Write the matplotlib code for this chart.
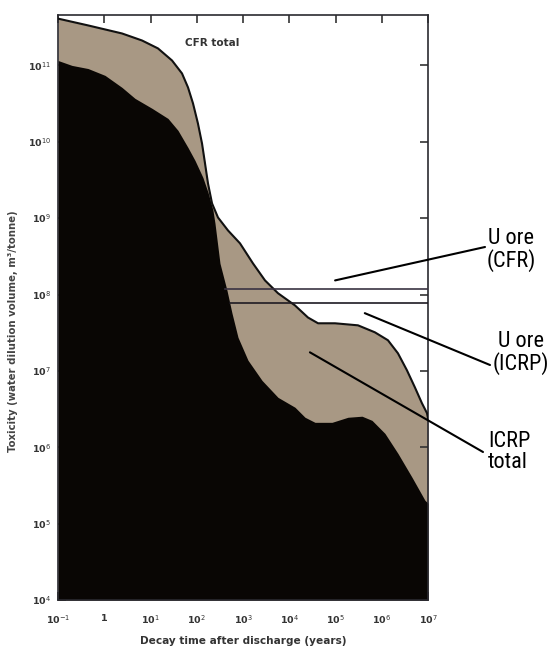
import numpy as np
import matplotlib
matplotlib.use('Agg')
import matplotlib.pyplot as plt

# Datos (anos, toxicidad m3/tonelada)
cfr_years = [0.1, 0.446, 2.42, 6.55, 14.5, 29.2, 48, 64.7, 83, 106, 130, 151,
             175, 214, 288, 474, 861, 1640, 2990, 5710, 1.33e4, 2.54e4, 4.2e4,
             9.75e4, 3.06e5, 7.1e5, 1.36e6, 2.24e6, 3.5e6, 5.2e6, 7.4e6,
             9.5e6, 1e7]
cfr_total = [4.1e11, 3.34e11, 2.62e11, 2.12e11, 1.67e11, 1.16e11, 7.85e10,
             5.15e10, 3.18e10, 1.74e10, 9.5e9, 5.2e9, 2.85e9, 1.56e9, 1.02e9,
             6.9e8, 4.68e8, 2.56e8, 1.53e8, 1.04e8, 7.2e7, 5.0e7, 4.2e7,
             4.2e7, 3.95e7, 3.2e7, 2.52e7, 1.7e7, 1.02e7, 6.1e6, 3.77e6,
             2.8e6, 2.4e6]

icrp_years = [0.1, 0.2, 0.446, 1.04, 2.42, 4.62, 10.8, 23.9, 39.3, 64.7, 91.6,
              136, 175, 224, 248, 318, 451, 578, 780, 1280, 2580, 5710, 1.33e4,
              2.19e4, 3.6e4, 8.4e4, 1.86e5, 3.74e5, 6.15e5, 1.17e6, 2.24e6,
              4.5e6, 8.6e6, 1e7]
icrp_total = [1.16e11, 1.0e11, 9.1e10, 7.4e10, 5.15e10, 3.7e10, 2.74e10,
              2.02e10, 1.41e10, 8.4e9, 5.7e9, 3.4e9, 2.18e9, 1.27e9, 8.55e8,
              2.56e8, 1.13e8, 5.7e7, 2.75e7, 1.38e7, 7.5e6, 4.5e6, 3.34e6,
              2.47e6, 2.12e6, 2.12e6, 2.47e6, 2.55e6, 2.25e6, 1.52e6, 8.3e5,
              4.05e5, 2.02e5, 1.85e5]

u_ore_cfr = 1.19e8
u_ore_icrp = 7.7e7
u_ore_cfr_start = 410
u_ore_icrp_start = 524

x_ticks = [0.1, 1, 10, 100, 1e3, 1e4, 1e5, 1e6, 1e7]
x_labels = ['10$^{-1}$', '1', '10$^{1}$', '10$^{2}$', '10$^{3}$', '10$^{4}$',
            '10$^{5}$', '10$^{6}$', '10$^{7}$']
y_ticks = [1e4, 1e5, 1e6, 1e7, 1e8, 1e9, 1e10, 1e11]
y_labels = ['10$^{4}$', '10$^{5}$', '10$^{6}$', '10$^{7}$', '10$^{8}$',
            '10$^{9}$', '10$^{10}$', '10$^{11}$']

W, H = 558, 649
fig = plt.figure(figsize=(W / 100, H / 100), dpi=100)
ax = fig.add_axes([58 / W, 1 - 600 / H, 370 / W, 585 / H])

tan = '#a89884'
ax.fill_between(cfr_years, cfr_total, 1e4, color=tan, lw=0, zorder=1)
ax.fill_between(icrp_years, icrp_total, 1e4, color='#090604', lw=0, zorder=2)
ax.plot(cfr_years, cfr_total, color='#111111', lw=1.5, zorder=3)

ax.plot([u_ore_cfr_start, 1e7], [u_ore_cfr, u_ore_cfr], color='#3a3342', lw=1.2, zorder=4)
ax.plot([u_ore_icrp_start, 1e7], [u_ore_icrp, u_ore_icrp], color='#1e1a22', lw=1.2, zorder=4)

ax.set_xscale('log')
ax.set_yscale('log')
ax.set_xlim(0.1, 1e7)
ax.set_ylim(1e4, 10 ** 11.66)
ax.minorticks_off()
ax.set_xticks(x_ticks)
ax.set_xticklabels(x_labels)
ax.set_yticks(y_ticks)
ax.set_yticklabels(y_labels)
ax.tick_params(direction='in', top=True, right=True, length=6, width=1.2,
               color='#333333', labelsize=6.8, labelcolor='#333333')
ax.tick_params(axis='x', pad=10)
ax.tick_params(axis='y', pad=5)
for s in ax.spines.values():
    s.set_color('#2a2a30')
    s.set_linewidth(1.2)
for lab in ax.get_xticklabels() + ax.get_yticklabels():
    lab.set_fontweight('bold')

ax.set_xlabel('Decay time after discharge (years)', fontsize=7.6, color='#333333',
              fontweight='bold', labelpad=7)
ax.set_ylabel('Toxicity (water dilution volume, m³/tonne)', fontsize=7.3,
              color='#444444', fontweight='bold')
ax.yaxis.set_label_coords(-0.108, 0.46)

ax.text(56, 1.94e11, 'CFR total', fontsize=7.5, color='#333333', fontweight='bold',
        va='center')

# Etiquetas con lineas indicadoras
narrow = ['Roboto Condensed', 'Liberation Sans Narrow', 'DejaVu Sans Condensed',
          'Roboto', 'DejaVu Sans']
ax.annotate('', xy=(9.8e4, 1.53e8), xytext=(485, H - 247), textcoords='figure pixels',
            arrowprops=dict(arrowstyle='-', color='black', lw=1.5, shrinkA=0, shrinkB=0),
            annotation_clip=False)
ax.annotate('', xy=(4.3e5, 5.7e7), xytext=(490, H - 365), textcoords='figure pixels',
            arrowprops=dict(arrowstyle='-', color='black', lw=1.5, shrinkA=0, shrinkB=0),
            annotation_clip=False)
ax.annotate('', xy=(2.8e4, 1.75e7), xytext=(483, H - 452), textcoords='figure pixels',
            arrowprops=dict(arrowstyle='-', color='black', lw=1.5, shrinkA=0, shrinkB=0),
            annotation_clip=False)

fig.text(511 / W, 1 - 228 / H, 'U ore\n(CFR)', ha='center', va='top', fontsize=16,
         family=narrow, linespacing=1.0)
fig.text(521 / W, 1 - 331 / H, 'U ore\n(ICRP)', ha='center', va='top', fontsize=16,
         family=narrow, linespacing=1.0)
fig.text(488 / W, 1 - 431 / H, 'ICRP\ntotal', ha='left', va='top', fontsize=16,
         family=narrow, linespacing=1.0)

fig.savefig('out.png', dpi=100)
